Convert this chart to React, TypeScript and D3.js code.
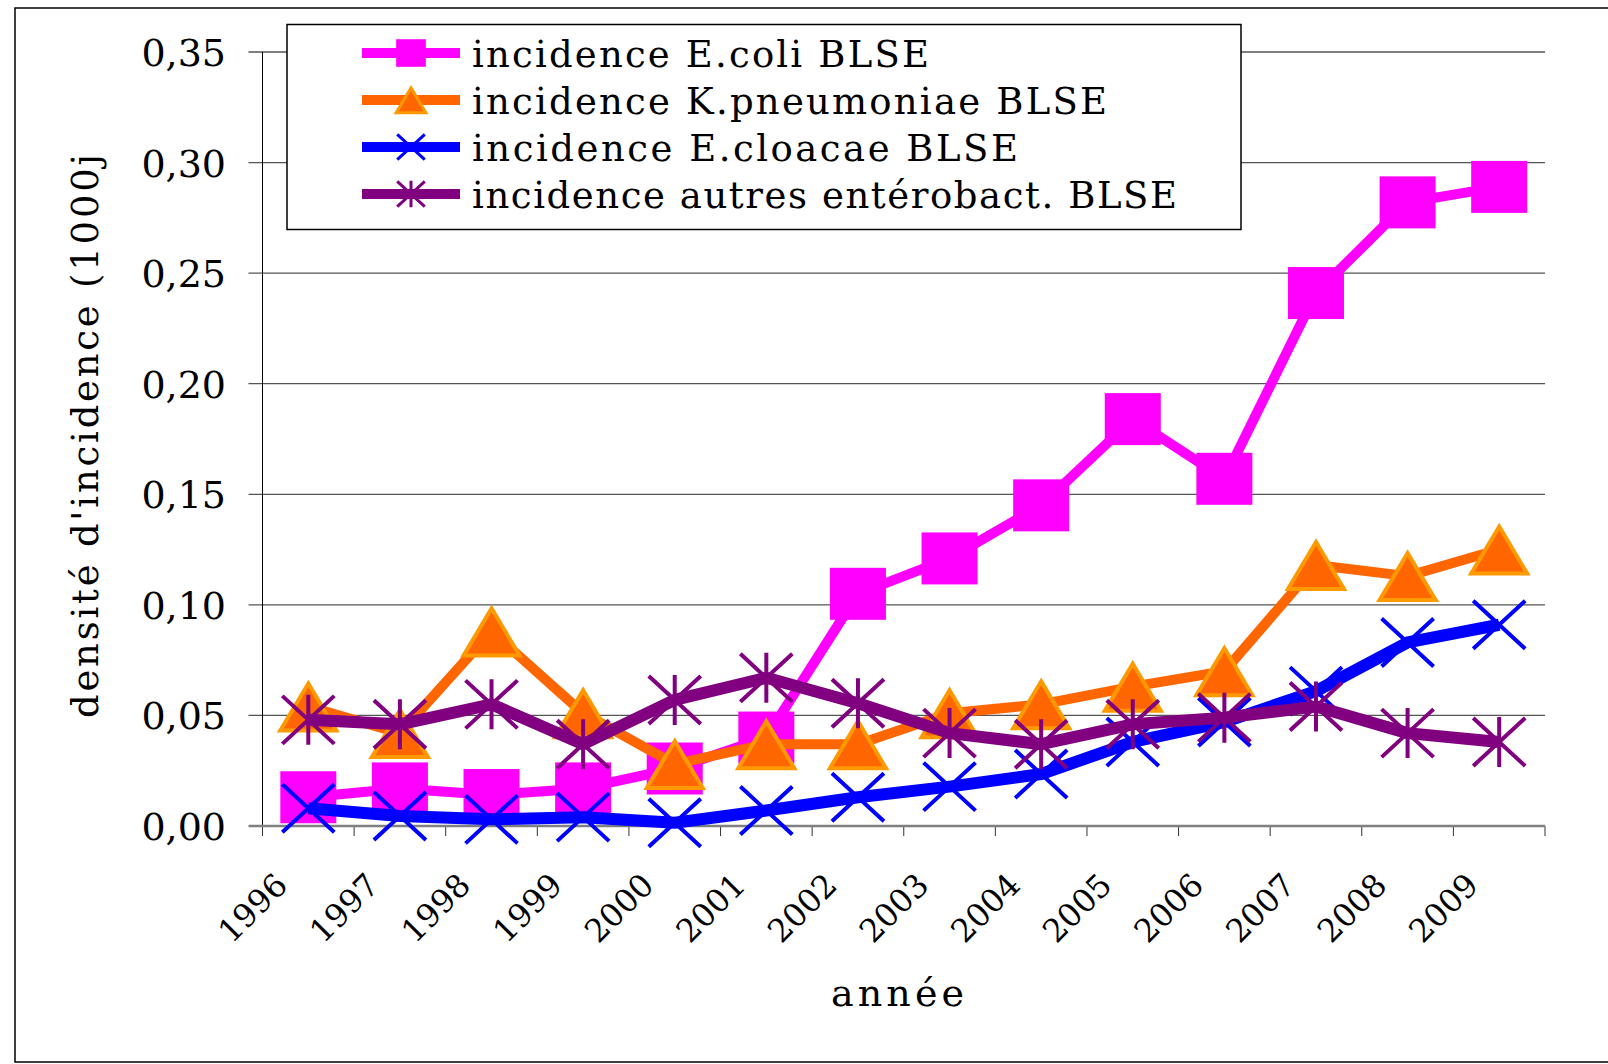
import * as d3 from "d3";
import React from "react";

// values
const years = [
  "1996", "1997", "1998", "1999", "2000", "2001", "2002",
  "2003", "2004", "2005", "2006", "2007", "2008", "2009",
];
const ecoliBlse = [0.013, 0.017, 0.014, 0.017, 0.026, 0.040, 0.105, 0.121, 0.145, 0.184, 0.157, 0.241, 0.282, 0.289];
const kpneumoniaeBlse = [0.054, 0.042, 0.088, 0.051, 0.028, 0.037, 0.037, 0.051, 0.055, 0.063, 0.070, 0.118, 0.113, 0.125];
const ecloacaeBlse = [0.008, 0.0045, 0.003, 0.004, 0.0015, 0.007, 0.013, 0.0178, 0.0235, 0.038, 0.047, 0.061, 0.083, 0.091];
const autresBlse = [0.048, 0.046, 0.055, 0.037, 0.057, 0.067, 0.0555, 0.042, 0.037, 0.046, 0.049, 0.054, 0.042, 0.038];

const yTicks = [0, 0.05, 0.1, 0.15, 0.2, 0.25, 0.3, 0.35];
const yTickLabels = ["0,00", "0,05", "0,10", "0,15", "0,20", "0,25", "0,30", "0,35"];
const seriesNames = [
  "incidence E.coli BLSE",
  "incidence K.pneumoniae BLSE",
  "incidence E.cloacae BLSE",
  "incidence autres entérobact. BLSE",
];

const FONT = "'DejaVu Serif', serif";

type Shape = "square" | "triangle" | "cross" | "star";

const series = [
  { name: seriesNames[0], values: ecoliBlse, color: "#FF00FF", width: 10, shape: "square" as Shape, legendLen: 457 },
  { name: seriesNames[1], values: kpneumoniaeBlse, color: "#FF6600", width: 10, shape: "triangle" as Shape, legendLen: 635 },
  { name: seriesNames[2], values: ecloacaeBlse, color: "#0000FF", width: 12, shape: "cross" as Shape, legendLen: 546 },
  { name: seriesNames[3], values: autresBlse, color: "#800080", width: 12, shape: "star" as Shape, legendLen: 705 },
];

const drawMarker = (
  g: d3.Selection<SVGGElement, unknown, null, undefined>,
  shape: Shape,
  color: string,
  cx: number,
  cy: number,
  s: number,
  sw: number
) => {
  if (shape === "square") {
    g.append("rect")
      .attr("x", cx - 28 * s)
      .attr("y", cy - 26 * s)
      .attr("width", 56 * s)
      .attr("height", 52 * s)
      .attr("fill", color);
  } else if (shape === "triangle") {
    g.append("path")
      .attr("d", `M${cx},${cy - 23 * s}L${cx + 28 * s},${cy + 24 * s}L${cx - 28 * s},${cy + 24 * s}Z`)
      .attr("fill", "#FF6600")
      .attr("stroke", "#FF9900")
      .attr("stroke-width", sw);
  } else {
    let d = `M${cx - 26 * s},${cy - 24 * s}L${cx + 26 * s},${cy + 24 * s}M${cx + 26 * s},${cy - 24 * s}L${cx - 26 * s},${cy + 24 * s}`;
    if (shape === "star") d += `M${cx},${cy - 25 * s}L${cx},${cy + 25 * s}`;
    g.append("path")
      .attr("d", d)
      .attr("fill", "none")
      .attr("stroke", color)
      .attr("stroke-width", sw);
  }
};

const IncidenceChart = (): React.ReactElement => {
  const chartRef = React.useRef<SVGSVGElement>(null);

  const margin = { top: 52, right: 1545, bottom: 826, left: 262.5 };

  React.useEffect(() => {
    const svg = d3.select(chartRef.current);
    svg.selectAll("*").remove();

    const x = d3.scaleBand<string>().domain(years).range([margin.left, margin.right]);
    const y = d3.scaleLinear().domain([0, 0.35]).range([margin.bottom, margin.top]);

    // outer frame (runs off the right edge like the original)
    svg.append("rect")
      .attr("x", 15).attr("y", 8)
      .attr("width", 1620).attr("height", 1054)
      .attr("fill", "white")
      .attr("stroke", "#000").attr("stroke-width", 1.5);

    // gridlines + y ticks
    svg.append("g")
      .selectAll("line")
      .data(yTicks.slice(1))
      .join("line")
      .attr("x1", margin.left - 14)
      .attr("x2", margin.right)
      .attr("y1", (d) => y(d))
      .attr("y2", (d) => y(d))
      .attr("stroke", "#555")
      .attr("stroke-width", 1.3);

    // y axis
    svg.append("line")
      .attr("x1", margin.left).attr("x2", margin.left)
      .attr("y1", y(0.35)).attr("y2", y(0))
      .attr("stroke", "#000").attr("stroke-width", 1);

    // x ticks at category boundaries
    const bounds = years.map((yr) => x(yr) as number).concat([margin.right]);
    svg.append("g")
      .selectAll("line")
      .data(bounds)
      .join("line")
      .attr("x1", (d) => d).attr("x2", (d) => d)
      .attr("y1", y(0)).attr("y2", y(0) + 10)
      .attr("stroke", "#333").attr("stroke-width", 1);

    // x axis line
    svg.append("line")
      .attr("x1", margin.left - 14).attr("x2", margin.right)
      .attr("y1", y(0)).attr("y2", y(0))
      .attr("stroke", "#808080").attr("stroke-width", 2.5);

    // y tick labels
    svg.append("g")
      .selectAll("text")
      .data(yTicks)
      .join("text")
      .attr("x", 226)
      .attr("y", (d) => y(d) + 14)
      .attr("text-anchor", "end")
      .attr("font-family", FONT)
      .attr("font-size", 38)
      .text((_, i) => yTickLabels[i]);

    // x tick labels, rotated
    const cx = (yr: string) => (x(yr) as number) + x.bandwidth() / 2;
    svg.append("g")
      .selectAll("text")
      .data(years)
      .join("text")
      .attr("transform", (d) => `translate(${cx(d) - 19},${887}) rotate(-45)`)
      .attr("text-anchor", "end")
      .attr("font-family", FONT)
      .attr("font-size", 32)
      .text((d) => d);

    // axis titles
    svg.append("text")
      .attr("x", 831).attr("y", 1006)
      .attr("textLength", 133).attr("lengthAdjust", "spacing")
      .attr("font-family", FONT).attr("font-size", 38)
      .text("année");

    svg.append("text")
      .attr("transform", `translate(98,718) rotate(-90)`)
      .attr("textLength", 564).attr("lengthAdjust", "spacing")
      .attr("font-family", FONT).attr("font-size", 37)
      .text("densité d'incidence (1000j");

    // series
    const line = d3.line<number>()
      .x((_, i) => cx(years[i]))
      .y((d) => y(d));

    series.forEach((s) => {
      const g = svg.append("g");
      g.append("path")
        .datum(s.values)
        .attr("d", line)
        .attr("fill", "none")
        .attr("stroke", s.color)
        .attr("stroke-width", s.width)
        .attr("stroke-linejoin", "round");
      s.values.forEach((v, i) => drawMarker(g, s.shape, s.color, cx(years[i]), y(v), 1, 4));
    });

    // legend
    const legend = svg.append("g");
    legend.append("rect")
      .attr("x", 287).attr("y", 24.5)
      .attr("width", 954).attr("height", 205)
      .attr("fill", "white")
      .attr("stroke", "#000").attr("stroke-width", 1.5);

    series.forEach((s, i) => {
      const ly = 53 + i * 47;
      legend.append("line")
        .attr("x1", 362).attr("x2", 460)
        .attr("y1", ly).attr("y2", ly)
        .attr("stroke", s.color).attr("stroke-width", 10);
      drawMarker(legend, s.shape, s.color, 411, ly, 0.53, 3);
      legend.append("text")
        .attr("x", 472).attr("y", ly + 14)
        .attr("textLength", s.legendLen).attr("lengthAdjust", "spacing")
        .attr("font-family", FONT).attr("font-size", 37)
        .text(s.name);
    });
  }, []);

  return (
    <svg
      ref={chartRef}
      width={1608}
      height={1064}
      style={{ position: "absolute", left: 0, top: 0, background: "white" }}
    ></svg>
  );
};

export default IncidenceChart;
